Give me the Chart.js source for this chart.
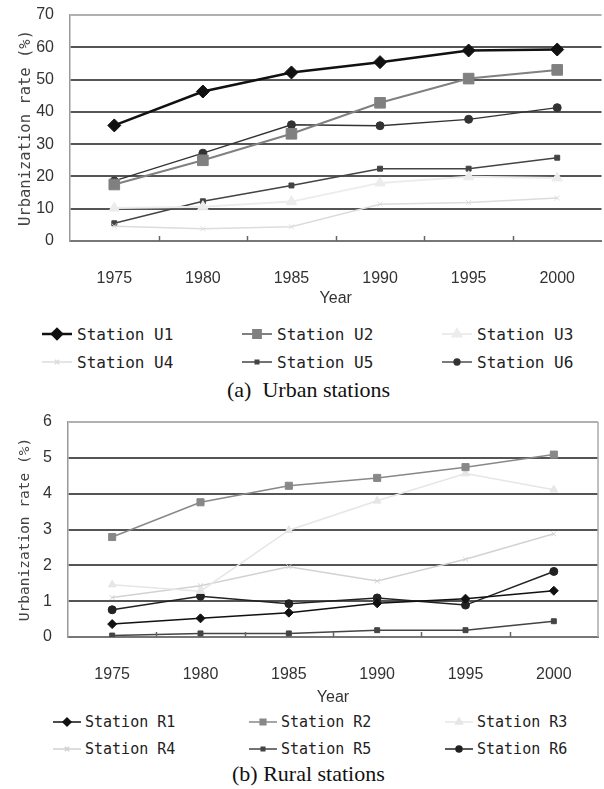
<!DOCTYPE html>
<html>
<head>
<meta charset="utf-8">
<script src="https://cdn.jsdelivr.net/npm/chart.js@4/dist/chart.umd.min.js"></script>
<style>
  html, body { margin: 0; padding: 0; background: #fff; }
  body { width: 604px; height: 789px; overflow: hidden; position: relative; }
  canvas.chart { position: absolute; left: 0; }
  .legend-item { position: absolute; height: 20px; display: flex; align-items: center;
    font-family: "DejaVu Sans Mono", monospace; color: #222; white-space: nowrap; }
  .legend-item canvas { display: block; }
  .caption { position: absolute; font-family: "Liberation Serif", "Times New Roman", serif;
    font-size: 22px; color: #111; white-space: nowrap; line-height: 24px; }
</style>
</head>
<body>
<canvas id="urban" class="chart" width="610" height="310" style="top:0"></canvas>
<canvas id="rural" class="chart" width="604" height="305" style="top:405px"></canvas>
<div id="urbanLegend"></div>
<div id="ruralLegend"></div>
<div class="caption" style="left:227px; top:378px">(a)&nbsp; Urban stations</div>
<div class="caption" style="left:232px; top:762px">(b) Rural stations</div>

<script>
// Survey years
const years = ['1975', '1980', '1985', '1990', '1995', '2000'];

// Urbanization rate (%) around urban stations
const stationU1 = [35.8, 46.3, 52.2, 55.4, 59.0, 59.3];
const stationU2 = [17.5, 25.0, 33.2, 42.8, 50.3, 53.0];
const stationU3 = [10.2, 10.6, 12.2, 18.0, 19.9, 19.5];
const stationU4 = [4.6, 3.8, 4.4, 11.4, 11.9, 13.3];
const stationU5 = [5.5, 12.3, 17.2, 22.4, 22.4, 25.8];
const stationU6 = [18.6, 27.2, 36.0, 35.7, 37.7, 41.3];

// Urbanization rate (%) around rural stations
const stationR1 = [0.36, 0.52, 0.68, 0.94, 1.07, 1.29];
const stationR2 = [2.79, 3.76, 4.22, 4.44, 4.74, 5.09];
const stationR3 = [1.46, 1.28, 2.98, 3.80, 4.56, 4.11];
const stationR4 = [1.10, 1.43, 1.96, 1.56, 2.17, 2.88];
const stationR5 = [0.04, 0.10, 0.10, 0.19, 0.19, 0.44];
const stationR6 = [0.76, 1.14, 0.93, 1.09, 0.89, 1.83];

// Axis ranges
const urbanAxis = { max: 70, step: 10 };
const ruralAxis = { max: 6, step: 1 };

function series(label, data, color, width, pointStyle, radius, legendRadius) {
  return {
    label, data,
    borderColor: color, backgroundColor: color,
    borderWidth: width, pointStyle,
    pointRadius: radius, pointHoverRadius: radius,
    pointBorderColor: color, pointBackgroundColor: color, pointBorderWidth: 1,
    tension: 0, fill: false, legendRadius
  };
}

// Short tick marks on the inner side of the category axis
const innerTicks = {
  id: 'innerTicks',
  afterDatasetsDraw(chart, args, opts) {
    const xs = chart.scales.x, ctx = chart.ctx, area = chart.chartArea;
    const n = xs.getLabels().length;
    ctx.save();
    ctx.strokeStyle = opts.color || '#666';
    ctx.lineWidth = 1.5;
    for (let i = 1; i < n; i++) {
      const x = Math.round(xs.left + i * (xs.right - xs.left) / n) + 0.5;
      ctx.beginPath();
      ctx.moveTo(x, area.bottom);
      ctx.lineTo(x, area.bottom - (opts.length || 5));
      ctx.stroke();
    }
    ctx.restore();
  }
};

// Right-hand frame edge
const rightFrame = {
  id: 'rightFrame',
  beforeDatasetsDraw(chart, args, opts) {
    if (!opts.show) return;
    const ctx = chart.ctx, a = chart.chartArea;
    ctx.save();
    ctx.strokeStyle = opts.color || '#aaa';
    ctx.lineWidth = 1.5;
    ctx.beginPath();
    ctx.moveTo(a.right, a.top);
    ctx.lineTo(a.right, a.bottom);
    ctx.stroke();
    ctx.restore();
  }
};

function makeOptions(cfg) {
  return {
    responsive: false,
    animation: false,
    devicePixelRatio: 1,
    layout: { padding: { top: cfg.padTop, right: cfg.padRight, left: 0, bottom: 0 } },
    plugins: {
      legend: { display: false },
      tooltip: { enabled: false },
      innerTicks: { length: 5, color: '#666' },
      rightFrame: { show: cfg.frame, color: '#aaa' }
    },
    scales: {
      x: {
        type: 'category',
        offset: true,
        grid: { display: false },
        border: { display: true, color: '#777', width: 2 },
        ticks: { color: '#333', padding: 20, font: { family: 'Liberation Sans', size: 16 } },
        title: { display: true, text: 'Year', color: '#333',
          font: { family: 'Liberation Sans', size: 16 }, padding: { top: 0, bottom: cfg.yearPad } },
        afterFit(scale) { scale.height = cfg.xHeight; }
      },
      y: {
        min: 0, max: cfg.max,
        ticks: { stepSize: cfg.step, color: '#333', padding: 16,
          font: { family: 'Liberation Sans', size: 16 } },
        grid: {
          drawTicks: false,
          lineWidth: 2,
          color: (c) => c.tick.value === cfg.max ? '#b0b0b0' : (c.tick.value === 0 ? '#777' : '#555')
        },
        border: { display: true, color: '#999', width: 1.5 },
        title: { display: true, text: 'Urbanization rate (%)', color: '#444',
          font: { family: 'DejaVu Sans Mono', size: cfg.titleSize }, padding: { top: 17, bottom: 0 } },
        afterFit(scale) {
          scale.width = cfg.yWidth;
          scale.paddingTop = 0;
          scale.paddingBottom = 0;
        }
      }
    }
  };
}

const urbanChart = new Chart(document.getElementById('urban'), {
  type: 'line',
  data: {
    labels: years,
    datasets: [
      series('Station U1', stationU1, '#111111', 2.5, 'rectRot', 6.5, 5),
      series('Station U2', stationU2, '#808080', 2, 'rect', 7.5, 5.5),
      series('Station U3', stationU3, '#ececec', 2, 'triangle', 6, 5),
      series('Station U4', stationU4, '#dcdcdc', 1.5, 'crossRot', 3.5, 3),
      series('Station U5', stationU5, '#444444', 1.5, 'rect', 3.5, 2.5),
      series('Station U6', stationU6, '#333333', 1.3, 'circle', 4, 3)
    ]
  },
  options: makeOptions({ max: urbanAxis.max, step: urbanAxis.step, padTop: 15, padRight: 4,
    yWidth: 70, xHeight: 69, yearPad: 2, titleSize: 15.5, frame: false }),
  plugins: [innerTicks, rightFrame]
});

const ruralChart = new Chart(document.getElementById('rural'), {
  type: 'line',
  data: {
    labels: years,
    datasets: [
      series('Station R1', stationR1, '#111111', 1.5, 'rectRot', 4.5, 4),
      series('Station R2', stationR2, '#888888', 1.5, 'rect', 5, 4),
      series('Station R3', stationR3, '#e6e6e6', 1.5, 'triangle', 4.5, 4),
      series('Station R4', stationR4, '#d2d2d2', 1.5, 'crossRot', 3.5, 3),
      series('Station R5', stationR5, '#444444', 1.5, 'rect', 3.5, 2.5),
      series('Station R6', stationR6, '#222222', 1.5, 'circle', 4, 3)
    ]
  },
  options: makeOptions({ max: ruralAxis.max, step: ruralAxis.step, padTop: 17, padRight: 2,
    yWidth: 68, xHeight: 73, yearPad: 3, titleSize: 14.5, frame: true }),
  plugins: [innerTicks, rightFrame]
});

// Three-column legend built from the chart datasets
function buildLegend(chart, holder, lay) {
  chart.data.datasets.forEach((ds, i) => {
    const col = i % 3, row = Math.floor(i / 3);
    const item = document.createElement('div');
    item.className = 'legend-item';
    item.style.left = (lay.x0 + col * lay.dx) + 'px';
    item.style.top = (lay.y0 + row * lay.dy - 10) + 'px';
    item.style.fontSize = lay.fontSize + 'px';
    const sw = document.createElement('canvas');
    sw.width = lay.lineLen; sw.height = 20;
    const ctx = sw.getContext('2d');
    ctx.strokeStyle = ds.borderColor;
    ctx.lineWidth = ds.borderWidth;
    ctx.beginPath(); ctx.moveTo(0, 10); ctx.lineTo(lay.lineLen, 10); ctx.stroke();
    ctx.fillStyle = ds.backgroundColor;
    Chart.helpers.drawPoint(ctx, { pointStyle: ds.pointStyle, radius: ds.legendRadius,
      rotation: 0, borderWidth: 1 }, lay.lineLen / 2, 10);
    item.appendChild(sw);
    const txt = document.createElement('span');
    txt.textContent = ds.label;
    txt.style.marginLeft = lay.gap + 'px';
    item.appendChild(txt);
    holder.appendChild(item);
  });
}

buildLegend(urbanChart, document.getElementById('urbanLegend'),
  { x0: 42, dx: 200, y0: 334, dy: 28, lineLen: 30, gap: 5, fontSize: 16 });
buildLegend(ruralChart, document.getElementById('ruralLegend'),
  { x0: 53, dx: 196, y0: 722, dy: 27, lineLen: 28, gap: 4, fontSize: 15 });
</script>
</body>
</html>
